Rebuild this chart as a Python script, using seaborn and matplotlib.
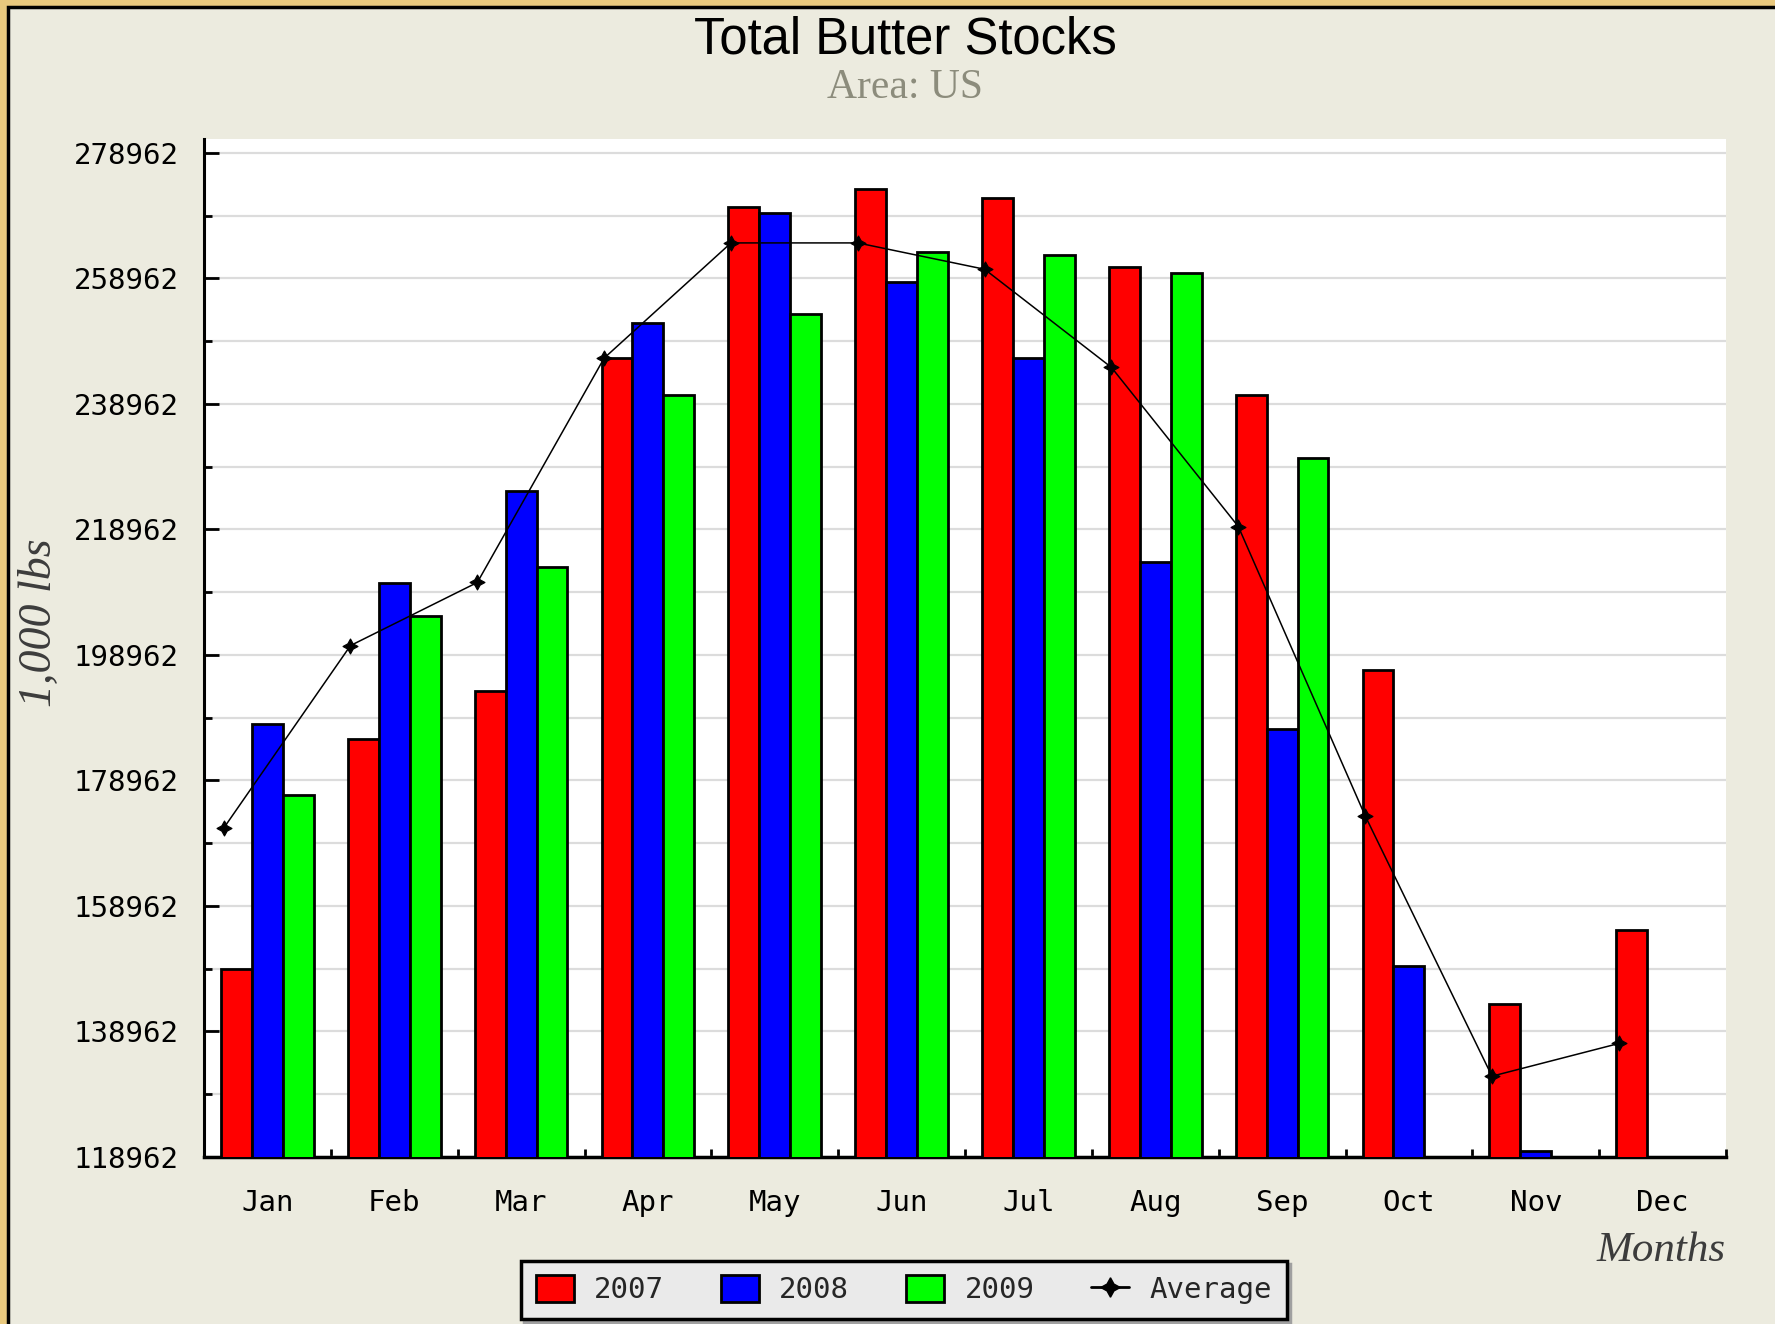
import numpy as np
import pandas as pd
import matplotlib
matplotlib.use("Agg")
import matplotlib.pyplot as plt
from matplotlib.patches import Rectangle, Patch
from matplotlib.lines import Line2D
import seaborn as sns

# ---------------- data ----------------
months = ["Jan", "Feb", "Mar", "Apr", "May", "Jun", "Jul", "Aug", "Sep", "Oct", "Nov", "Dec"]
years = ["2007", "2008", "2009"]
y2007 = [148917, 185560, 193168, 246200, 270397, 273268, 271833, 260829, 240397, 196570, 143274, 155134]
y2008 = [188005, 210397, 225134, 251779, 269440, 258430, 246198, 213699, 187101, 149440, 119870, np.nan]
y2009 = [176676, 205081, 212902, 240397, 253215, 263221, 262689, 259872, 230397, np.nan, np.nan, np.nan]
average = [171354, 200450, 210504, 246251, 264603, 264603, 260403, 244762, 219414, 173327, 131839, 137048]
yticks = [118962, 138962, 158962, 178962, 198962, 218962, 238962, 258962, 278962]
colors = {"2007": "#FF0000", "2008": "#0000FF", "2009": "#00FF00"}

title = "Total Butter Stocks"
subtitle = "Area: US"
ylabel = "1,000 lbs"
xlabel = "Months"

# ---------------- frame ----------------
sns.set_style("white")
plt.rcParams["font.family"] = ["DejaVu Sans Mono", "DejaVu Sans"]

W, H = 1775, 1324
fig = plt.figure(figsize=(W / 100, H / 100), dpi=100, facecolor="#E9C97E")
fig.patches.append(Rectangle((8 / W, -0.02), 1.05, 1.02 - 7 / H, transform=fig.transFigure,
                             facecolor="#ECEBDF", edgecolor="black", linewidth=2.5, zorder=-5))

ax = fig.add_axes([204 / W, 167 / H, (1726 - 204) / W, (1185 - 167) / H])
ax.set_facecolor("white")

df = pd.DataFrame({
    "Month": months * 3,
    "Year": [y for y in years for _ in months],
    "Value": y2007 + y2008 + y2009,
}).dropna()

sns.barplot(data=df, x="Month", y="Value", hue="Year", order=months, hue_order=years,
            palette=colors, saturation=1, edgecolor="black", linewidth=2.0,
            width=0.73, errorbar=None, legend=False, ax=ax, zorder=3)

sns.lineplot(x=np.arange(len(months)) - 0.345, y=average, ax=ax, color="black", linewidth=1.1,
             marker=(4, 1, 0), markersize=11, markerfacecolor="black", markeredgecolor="black",
             sort=False, zorder=5)

ax.set_xlim(-0.5, len(months) - 0.5)
ax.set_ylim(118962, 281160)

ax.set_yticks(yticks)
ax.set_yticklabels([str(v) for v in yticks])
ax.set_yticks([v + 10000 for v in yticks[:-1]], minor=True)
ax.set_xticks(range(len(months)))
ax.set_xticklabels(months)
ax.set_xticks(np.arange(len(months)) + 0.5, minor=True)

ax.yaxis.grid(True, which="both", color="#DCDCDC", linewidth=1.6, zorder=0)
ax.xaxis.grid(False)
ax.set_axisbelow(True)

ax.tick_params(left=True, bottom=True, which="both")
ax.tick_params(axis="y", which="major", direction="in", length=11, width=2, pad=18,
               labelsize=21, colors="black")
ax.tick_params(axis="y", which="minor", direction="in", length=6, width=2, color="black")
ax.tick_params(axis="x", which="major", length=0, pad=23, labelsize=21, colors="black")
ax.tick_params(axis="x", which="minor", direction="in", length=6, width=2, color="black")

for s in ["top", "right"]:
    ax.spines[s].set_visible(False)
ax.spines["left"].set_linewidth(2.2)
ax.spines["bottom"].set_linewidth(2.5)
ax.spines["left"].set_color("black")
ax.spines["bottom"].set_color("black")
ax.set_xlabel("")
ax.set_ylabel("")

# ---------------- texts ----------------
fig.text(0.510, 0.970, title, ha="center", va="center", fontsize=36.5,
         family=["Liberation Sans", "DejaVu Sans"], color="black")
fig.text(0.5096, 0.934, subtitle, ha="center", va="center", fontsize=30,
         family=["Liberation Serif", "DejaVu Serif"], color="#8C8C7C")
fig.text(0.0225, 0.5295, ylabel, ha="center", va="center", rotation=90, fontsize=33,
         family=["Liberation Serif", "DejaVu Serif"], style="italic", color="#3C3C3C")
fig.text(0.9724, 0.055, xlabel, ha="right", va="center", fontsize=31,
         family=["Liberation Serif", "DejaVu Serif"], style="italic", color="#3C3C3C")

# ---------------- legend ----------------
handles = [Patch(facecolor=colors[y], edgecolor="black", linewidth=2) for y in years]
handles.append(Line2D([], [], color="black", linewidth=2, marker=(4, 1, 0), markersize=14))
leg = fig.legend(handles, years + ["Average"], loc="center", bbox_to_anchor=(0.5093, 0.0257),
                 ncol=4, fontsize=21, frameon=True, fancybox=False, framealpha=1,
                 facecolor="#EAEAEA", edgecolor="black", handlelength=1.3, handleheight=1.0,
                 handletextpad=0.7, columnspacing=1.95, borderpad=0.5,
                 shadow={"facecolor": "#A0A0A0", "edgecolor": "#A0A0A0", "alpha": 1})
leg.get_frame().set_linewidth(2.5)

fig.savefig("out.png", dpi=100, facecolor=fig.get_facecolor())
